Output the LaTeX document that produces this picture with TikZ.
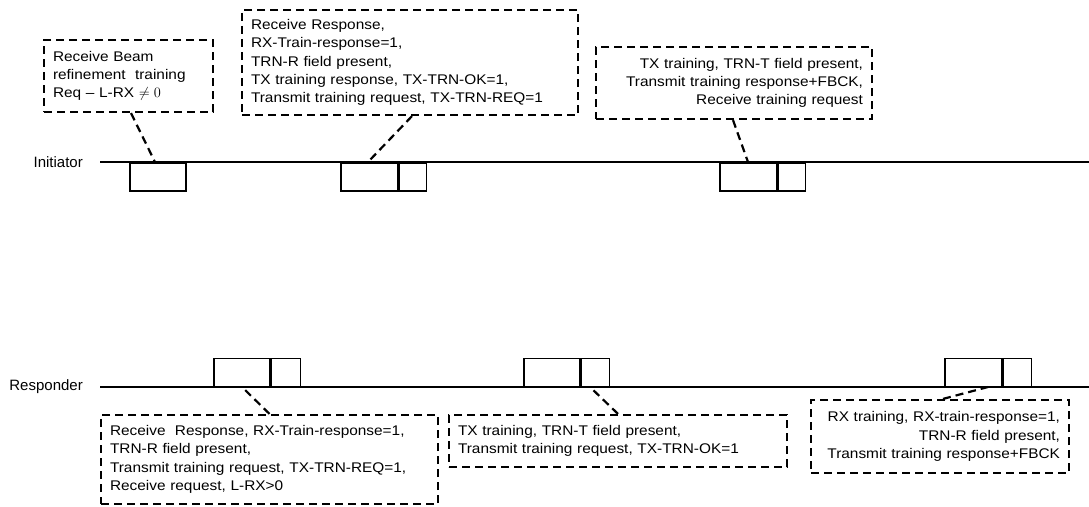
\documentclass[tikz,border=0pt]{standalone}
\usepackage{fontspec}
\setmainfont{Liberation Sans}
\newfontfamily\notefont[FakeStretch=1.1]{Liberation Sans}

\begin{document}
\begin{tikzpicture}[x=1pt,y=-1pt,
  note/.style={draw,line width=2.2pt,dash pattern=on 8pt off 5pt,inner xsep=9pt,inner ysep=0pt,
    font=\notefont\fontsize{14}{18.3}\selectfont},
  leader/.style={line width=2.2pt,dash pattern=on 8pt off 5pt},
  slot/.style={draw,line width=1.5pt,minimum height=28pt,inner sep=0pt},
  axis/.style={line width=1.8pt},
  lbl/.style={font=\fontsize{15}{18}\selectfont,inner sep=0pt,anchor=east}]
  \useasboundingbox (0,0) rectangle (1089,506);

  % time lines
  \node[lbl] (ini) at (83,162) {Initiator};
  \node[lbl] (rsp) at (83,387) {Responder};
  \coordinate (iniend) at (1089,162);
  \coordinate (rspend) at (1089,387);
  \draw[axis] ([xshift=17pt]ini.east) -- (iniend);
  \draw[axis] ([xshift=17pt]rsp.east) -- (rspend);

  % frames on the initiator line
  \node[slot,minimum width=56pt,anchor=north west] (i1) at (129,162) {};
  \node[slot,minimum width=57pt,anchor=north west] (i2a) at (340,162) {};
  \node[slot,minimum width=27pt,anchor=north west] (i2b) at (i2a.north east) {};
  \node[slot,minimum width=57pt,anchor=north west] (i3a) at (719,162) {};
  \node[slot,minimum width=27pt,anchor=north west] (i3b) at (i3a.north east) {};

  % frames on the responder line
  \node[slot,minimum width=56pt,anchor=south west] (r1a) at (213,387) {};
  \node[slot,minimum width=29pt,anchor=south west] (r1b) at (r1a.south east) {};
  \node[slot,minimum width=56pt,anchor=south west] (r2a) at (523,387) {};
  \node[slot,minimum width=28pt,anchor=south west] (r2b) at (r2a.south east) {};
  \node[slot,minimum width=57pt,anchor=south west] (r3a) at (944,387) {};
  \node[slot,minimum width=28pt,anchor=south west] (r3b) at (r3a.south east) {};

  \coordinate (P1) at (155,162);
  \coordinate (P2) at (368,162);
  \coordinate (P3) at (748,162);
  \coordinate (Q1) at (242,387);
  \coordinate (Q2) at (590,387);
  \coordinate (Q3) at (988,387);

  % callouts
  \node[note,text width=151pt,minimum height=72pt,align=left] (n1) at (128.5,76)
    {Receive Beam\\refinement~ training\\Req – L-RX $\neq 0$};
  \node[note,text width=318pt,minimum height=105pt,align=left] (n2) at (410,62.5)
    {Receive Response,\\RX-Train-response=1,\\TRN-R field present,\\TX training response, TX-TRN-OK=1,\\Transmit training request, TX-TRN-REQ=1};
  \node[note,text width=258pt,minimum height=72pt,align=right] (n3) at (734,83)
    {TX training, TRN-T field present,\\Transmit training response+FBCK,\\Receive training request};
  \node[note,text width=319pt,minimum height=89pt,align=left] (n4) at (269.5,459.5)
    {Receive~ Response, RX-Train-response=1,\\TRN-R field present,\\Transmit training request, TX-TRN-REQ=1,\\Receive request, L-RX>0};
  \node[note,text width=320pt,minimum height=52pt,align=left] (n5) at (618,441)
    {TX training, TRN-T field present,\\Transmit training request, TX-TRN-OK=1};
  \node[note,text width=240pt,minimum height=73pt,align=right] (n6) at (940,436.5)
    {RX training, RX-train-response=1,\\TRN-R field present,\\Transmit training response+FBCK};

  \draw[leader] ([xshift=2.5pt]n1.south) -- (P1);
  \draw[leader] ([xshift=2pt]n2.south) -- (P2);
  \draw[leader] ([xshift=-1pt]n3.south) -- (P3);
  \draw[leader] (n4.north) -- (Q1);
  \draw[leader] (n5.north) -- (Q2);
  \draw[leader] ([xshift=3pt]n6.north) -- (Q3);
\end{tikzpicture}
\end{document}
